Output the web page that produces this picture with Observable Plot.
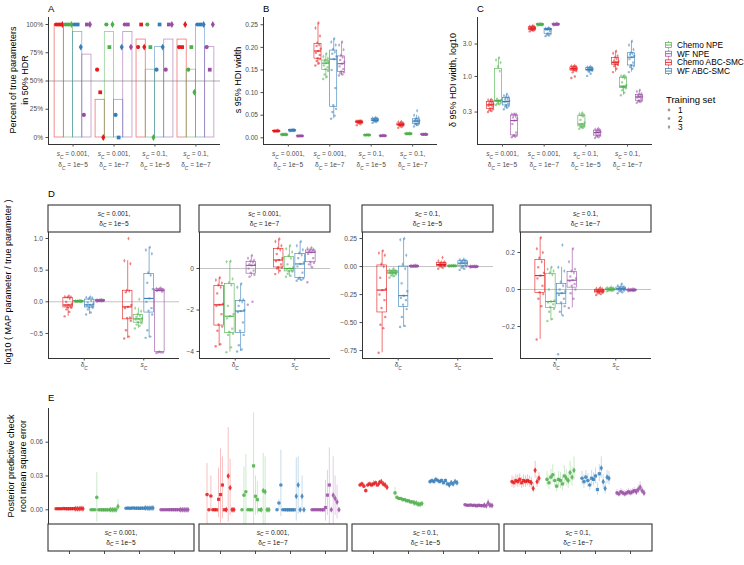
<!DOCTYPE html>
<html><head><meta charset="utf-8">
<script src="https://cdn.jsdelivr.net/npm/d3@7"></script>
<script src="https://cdn.jsdelivr.net/npm/@observablehq/plot@0.6"></script>
<style>
body{margin:0;background:#fff;font-family:"Liberation Sans",Arial,sans-serif}
#root{position:relative;width:744px;height:565px;overflow:hidden;background:#fff}
</style></head><body><div id="root"></div>
<script>
// ---------- categories ----------
const methods = ["Chemo ABC-SMC","Chemo NPE","WF ABC-SMC","WF NPE"];
const methodColors = ["#E41A1C","#4DAF4A","#377EB8","#984EA3"];
const legendOrder = ["Chemo NPE","WF NPE","Chemo ABC-SMC","WF ABC-SMC"];
const conditions = ["s_C = 0.001,\nδ_C = 1e−5","s_C = 0.001,\nδ_C = 1e−7","s_C = 0.1,\nδ_C = 1e−5","s_C = 0.1,\nδ_C = 1e−7"];
const paramLabels = ["δ_C","s_C"];
const trainingSets = [1,2,3];

// ---------- A: % of true parameters in 50% HDR (per method: sets 1,2,3) ----------
const hdr_c1 = [[100,100,100],[100,100,100],[100,100,80],[20,100,100]];
const hdr_c2 = [[60,40,0],[100,80,100],[20,0,80],[100,100,80]];
const hdr_c3 = [[80,100,80],[100,80,0],[60,100,80],[60,100,100]];
const hdr_c4 = [[80,80,100],[60,80,40],[100,100,100],[80,60,100]];

// ---------- B: s 95% HDI width ----------
const hdiS_c1 = [
 [0.0135,0.014,0.0142,0.0145,0.0147,0.0148,0.015,0.015,0.0152,0.0153,0.0155,0.0157,0.016,0.0163,0.0168],
 [0.0055,0.006,0.0062,0.0065,0.0067,0.0068,0.007,0.007,0.0071,0.0073,0.0075,0.0077,0.008,0.0082,0.0085],
 [0.0145,0.015,0.0155,0.0158,0.016,0.0162,0.0164,0.0166,0.0168,0.017,0.0172,0.0175,0.0178,0.018,0.0185],
 [0.003,0.0033,0.0035,0.0037,0.0038,0.004,0.004,0.0041,0.0042,0.0043,0.0045,0.0046,0.0048,0.005,0.0052]];
const hdiS_c2 = [
 [0.160,0.165,0.170,0.174,0.176,0.183,0.188,0.192,0.197,0.203,0.206,0.210,0.225,0.243,0.254],
 [0.130,0.135,0.140,0.148,0.152,0.156,0.160,0.165,0.167,0.169,0.170,0.172,0.176,0.180,0.186],
 [0.042,0.049,0.057,0.064,0.072,0.110,0.150,0.174,0.180,0.186,0.190,0.196,0.205,0.212,0.219],
 [0.138,0.140,0.143,0.145,0.147,0.152,0.158,0.164,0.168,0.172,0.178,0.182,0.195,0.205,0.212]];
const hdiS_c3 = [
 [0.028,0.030,0.032,0.033,0.034,0.034,0.035,0.035,0.0355,0.036,0.036,0.0365,0.037,0.037,0.038],
 [0.0052,0.0055,0.0057,0.0058,0.006,0.006,0.0061,0.0062,0.0063,0.0064,0.0065,0.0066,0.0068,0.007,0.0072],
 [0.033,0.035,0.036,0.037,0.038,0.038,0.039,0.039,0.040,0.040,0.041,0.042,0.043,0.044,0.045],
 [0.0035,0.0038,0.004,0.0041,0.0042,0.0043,0.0044,0.0045,0.0046,0.0047,0.0048,0.0049,0.005,0.0052,0.0055]];
const hdiS_c4 = [
 [0.022,0.024,0.026,0.027,0.028,0.028,0.029,0.029,0.030,0.030,0.031,0.032,0.033,0.035,0.036],
 [0.0078,0.008,0.0083,0.0085,0.0087,0.0088,0.009,0.009,0.0091,0.0092,0.0094,0.0095,0.0097,0.01,0.0102],
 [0.025,0.028,0.030,0.031,0.031,0.034,0.036,0.037,0.038,0.039,0.040,0.042,0.045,0.050,0.060],
 [0.0065,0.0067,0.0069,0.007,0.0071,0.0072,0.0073,0.0074,0.0075,0.0076,0.0077,0.0078,0.008,0.0082,0.0085]];

// ---------- C: delta 95% HDI width (log10 axis) ----------
const hdiD_c1 = [
 [0.30,0.31,0.32,0.33,0.34,0.36,0.37,0.383,0.39,0.40,0.41,0.43,0.44,0.45,0.46],
 [0.38,0.39,0.40,0.41,0.43,0.435,0.44,0.444,0.45,0.47,1.2,1.4,1.6,1.75,1.88],
 [0.33,0.35,0.36,0.37,0.38,0.40,0.42,0.429,0.44,0.46,0.47,0.49,0.50,0.52,0.55],
 [0.128,0.130,0.133,0.135,0.137,0.15,0.2,0.225,0.24,0.25,0.26,0.274,0.276,0.278,0.28]];
const hdiD_c2 = [
 [4.6,4.7,4.8,4.85,4.87,4.95,5.05,5.13,5.18,5.22,5.28,5.32,5.4,5.5,5.6],
 [5.6,5.65,5.7,5.72,5.75,5.78,5.8,5.82,5.84,5.86,5.88,5.9,5.93,5.96,6.0],
 [3.92,4.0,4.1,4.2,4.3,4.6,4.9,4.95,4.97,4.98,4.99,5.01,5.05,5.1,5.2],
 [5.65,5.7,5.73,5.76,5.78,5.8,5.83,5.85,5.87,5.89,5.91,5.93,5.96,6.0,6.05]];
const hdiD_c3 = [
 [0.95,1.0,1.15,1.2,1.24,1.27,1.29,1.3,1.31,1.33,1.35,1.38,1.4,1.43,1.45],
 [0.17,0.175,0.18,0.183,0.185,0.19,0.195,0.2,0.21,0.23,0.26,0.27,0.275,0.28,0.29],
 [1.02,1.1,1.18,1.21,1.23,1.25,1.26,1.27,1.28,1.3,1.32,1.34,1.36,1.38,1.4],
 [0.125,0.128,0.132,0.134,0.136,0.14,0.145,0.15,0.153,0.156,0.159,0.161,0.165,0.168,0.172]];
const hdiD_c4 = [
 [1.16,1.3,1.42,1.47,1.51,1.55,1.6,1.62,1.66,1.72,1.82,1.9,2.0,2.2,2.36],
 [0.53,0.58,0.63,0.67,0.69,0.7,0.71,0.72,0.75,0.82,0.94,0.98,1.0,1.02,1.03],
 [1.16,1.3,1.38,1.43,1.47,1.6,1.8,1.92,2.0,2.1,2.18,2.22,2.5,2.9,3.3],
 [0.41,0.42,0.43,0.435,0.445,0.47,0.49,0.5,0.51,0.52,0.53,0.545,0.56,0.6,0.63]];

// ---------- D: log10(MAP / true), delta_C and s_C per condition ----------
const mapDelta_c1 = [
 [-0.23,-0.16,-0.12,-0.095,-0.085,-0.07,-0.06,-0.05,-0.03,0.0,0.05,0.07,0.075,0.08,0.09],
 [-0.005,0,0.002,0.004,0.005,0.006,0.008,0.01,0.011,0.012,0.014,0.015,0.017,0.018,0.02],
 [-0.2,-0.17,-0.12,-0.095,-0.085,-0.07,-0.06,-0.048,-0.03,-0.01,0.02,0.05,0.06,0.07,0.075],
 [0.005,0.008,0.01,0.012,0.014,0.016,0.018,0.02,0.022,0.024,0.026,0.028,0.03,0.032,0.035]];
const mapS_c1 = [
 [-0.58,-0.55,-0.45,-0.3,-0.255,-0.25,-0.1,-0.08,-0.05,0.15,0.17,0.18,0.6,0.65,1.0],
 [-0.42,-0.38,-0.36,-0.34,-0.32,-0.3,-0.28,-0.27,-0.26,-0.24,-0.22,-0.2,-0.15,-0.1,0.04],
 [-0.57,-0.55,-0.45,-0.2,-0.14,-0.1,0.0,0.053,0.2,0.3,0.42,0.46,0.76,0.82,0.86],
 [-0.81,-0.8,-0.8,-0.8,-0.79,0.16,0.17,0.18,0.18,0.19,0.19,0.2,0.2,0.21,0.22]];
const mapDelta_c2 = [
 [-3.75,-3.65,-3.0,-2.8,-2.7,-2.2,-1.8,-1.75,-1.7,-1.2,-0.9,-0.8,-0.7,-0.55,-0.45],
 [-4.03,-3.8,-3.2,-3.15,-3.05,-2.9,-2.4,-2.3,-2.2,-1.8,-0.8,-0.68,-0.5,0.33,0.35],
 [-4.0,-3.9,-3.7,-3.2,-3.0,-2.6,-2.1,-2.05,-2.0,-1.8,-1.6,-1.54,-1.5,-0.9,-0.74],
 [-1.75,-1.6,-0.4,-0.3,-0.2,-0.1,0,0.15,0.18,0.2,0.3,0.35,0.4,0.5,0.63]];
const mapS_c2 = [
 [-0.27,-0.1,0.0,0.04,0.06,0.2,0.35,0.41,0.5,0.7,0.9,0.98,1.1,1.3,1.42],
 [-0.4,-0.35,-0.25,-0.15,-0.13,-0.08,-0.03,0.0,0.05,0.2,0.5,0.62,0.8,0.95,1.1],
 [-0.59,-0.55,-0.5,-0.48,-0.44,-0.2,0.1,0.22,0.3,0.5,0.65,0.75,0.9,1.1,1.3],
 [-0.66,0.06,0.2,0.28,0.32,0.5,0.7,0.78,0.8,0.82,0.85,0.89,0.92,0.96,1.0]];
const mapDelta_c3 = [
 [-0.77,-0.55,-0.52,-0.45,-0.37,-0.3,-0.25,-0.21,-0.2,-0.1,0.0,0.02,0.1,0.12,0.14],
 [-0.1,-0.085,-0.08,-0.07,-0.065,-0.06,-0.055,-0.05,-0.048,-0.045,-0.04,-0.038,-0.035,-0.03,-0.02],
 [-0.54,-0.53,-0.45,-0.38,-0.34,-0.3,-0.28,-0.26,-0.22,-0.15,-0.02,0.02,0.1,0.24,0.25],
 [-0.005,-0.003,-0.002,0,0.001,0.002,0.003,0.004,0.005,0.006,0.007,0.008,0.009,0.01,0.012]];
const mapS_c3 = [
 [-0.02,-0.01,0.0,0.005,0.008,0.01,0.015,0.018,0.02,0.025,0.03,0.032,0.04,0.05,0.08],
 [0,0.002,0.003,0.004,0.005,0.005,0.006,0.006,0.007,0.007,0.008,0.008,0.009,0.01,0.012],
 [-0.03,-0.02,-0.01,0.0,0.005,0.015,0.025,0.03,0.035,0.04,0.045,0.05,0.055,0.06,0.065],
 [-0.008,-0.006,-0.005,-0.004,-0.003,-0.002,-0.002,-0.001,0,0,0.001,0.002,0.003,0.004,0.005]];
const mapDelta_c4 = [
 [-0.27,-0.09,-0.05,-0.025,-0.015,0.02,0.06,0.075,0.09,0.12,0.15,0.17,0.2,0.22,0.28],
 [-0.17,-0.16,-0.12,-0.105,-0.095,-0.08,-0.07,-0.065,-0.06,0.0,0.08,0.09,0.1,0.11,0.12],
 [-0.35,-0.14,-0.12,-0.09,-0.07,-0.05,-0.03,-0.02,-0.01,0.0,0.02,0.04,0.1,0.12,0.24],
 [-0.1,-0.05,-0.02,0.0,0.02,0.03,0.045,0.05,0.06,0.07,0.09,0.1,0.11,0.15,0.22]];
const mapS_c4 = [
 [-0.03,-0.025,-0.02,-0.018,-0.015,-0.012,-0.01,-0.008,-0.006,-0.005,-0.003,0,0.003,0.006,0.01],
 [-0.01,-0.008,-0.006,-0.004,-0.003,-0.002,0,0,0.002,0.003,0.004,0.006,0.008,0.01,0.012],
 [-0.02,-0.015,-0.01,-0.006,-0.004,0,0.002,0.004,0.006,0.008,0.01,0.012,0.015,0.02,0.03],
 [-0.01,-0.008,-0.007,-0.006,-0.005,-0.004,-0.003,-0.003,-0.002,-0.002,-0.001,0,0.001,0.002,0.003]];

// ---------- E: posterior predictive RMSE [value, lower, upper] ----------
const ppc_c1 = [
 [[0.0009,0.0006,0.0012],[0.001,0.0007,0.0013],[0.0009,0.0006,0.0012],[0.001,0.0007,0.0013],[0.0011,0.0008,0.0014],[0.001,0.0007,0.0013],[0.0009,0.0006,0.0012],[0.001,0.0007,0.0013],[0.001,0.0007,0.0013],[0.0011,0.0008,0.0014],[0.001,0.0007,0.0013],[0.0009,0.0006,0.0012],[0.001,0.0007,0.0013],[0.0011,0.0008,0.0014],[0.001,0.0007,0.0013]],
 [[0,0,0.0002],[0,0,0.0002],[0,0,0.0002],[0.011,-0.011,0.033],[0,0,0.0002],[0,0,0.0002],[0,0,0.0002],[0,0,0.0002],[0,0,0.0002],[0,0,0.0002],[0,0,0.0002],[0,0,0.0002],[0,0,0.0002],[0,0,0.0002],[0.003,0.0005,0.009]],
 [[0.0014,0.0011,0.0017],[0.0015,0.0012,0.0018],[0.0013,0.001,0.0016],[0.0015,0.0012,0.0018],[0.0016,0.0013,0.0019],[0.0014,0.0011,0.0017],[0.0015,0.0012,0.0018],[0.0013,0.001,0.0016],[0.0015,0.0012,0.0018],[0.0014,0.0011,0.0017],[0.0016,0.0013,0.0019],[0.0015,0.0012,0.0018],[0.0014,0.0011,0.0017],[0.0015,0.0012,0.0018],[0.0016,0.0013,0.0019]],
 [[0.0001,0,0.0003],[0.0001,0,0.0003],[0.0001,0,0.0003],[0.0001,0,0.0003],[0.0001,0,0.0003],[0.0001,0,0.0003],[0.0001,0,0.0003],[0.0001,0,0.0003],[0.0001,0,0.0003],[0.0001,0,0.0003],[0.0001,0,0.0003],[0.0001,0,0.0003],[0.0001,0,0.0003],[0.0001,0,0.0003],[0.0001,0,0.0003]]];
const ppc_c2 = [
 [[0.0135,-0.013,0.041],[0,0,0.001],[0.0123,0.0,0.030],[0,0,0.001],[0,0,0.001],[0,0,0.001],[0.0093,-0.007,0.037],[0.0135,-0.012,0.054],[0.022,-0.008,0.047],[0,0,0.001],[0,0,0.001],[0.030,-0.011,0.073],[0.0195,-0.005,0.045],[0,0,0.001],[0,0,0.001]],
 [[0,0,0.001],[0.013,-0.013,0.038],[0.016,-0.015,0.049],[0,0,0.001],[0,0,0.001],[0,0,0.001],[0.039,-0.014,0.086],[0.012,-0.005,0.03],[0.009,-0.004,0.025],[0,0,0.001],[0,0,0.001],[0.017,-0.016,0.05],[0.016,-0.014,0.047],[0,0,0.001],[0,0,0.001]],
 [[0,0,0.001],[0.006,0,0.009],[0.022,-0.006,0.053],[0,0,0.001],[0,0,0.001],[0,0,0.001],[0,0,0.001],[0,0,0.001],[0,0,0.001],[0,0,0.001],[0.012,-0.01,0.046],[0.022,-0.004,0.047],[0,0,0.001],[0.012,-0.002,0.03],[0,0,0.001]],
 [[0,0,0.001],[0,0,0.001],[0,0,0.001],[0,0,0.001],[0,0,0.001],[0,0,0.001],[0,0,0.001],[0.002,-0.01,0.026],[0.013,-0.005,0.035],[0.022,-0.013,0.055],[0,0,0.001],[0.013,-0.013,0.047],[0.01,-0.005,0.03],[0.007,-0.008,0.022],[0,0,0.001]]];
const ppc_c3 = [
 [[0.022,0.020,0.024],[0.023,0.021,0.025],[0.021,0.019,0.023],[0.017,0.015,0.019],[0.022,0.020,0.024],[0.023,0.021,0.025],[0.022,0.020,0.024],[0.023,0.021,0.026],[0.024,0.022,0.026],[0.022,0.020,0.024],[0.024,0.022,0.026],[0.025,0.023,0.027],[0.023,0.021,0.025],[0.022,0.020,0.024],[0.020,0.018,0.022]],
 [[0.015,0.011,0.020],[0.011,0.010,0.012],[0.010,0.009,0.011],[0.010,0.009,0.011],[0.009,0.008,0.010],[0.009,0.008,0.010],[0.008,0.007,0.009],[0.008,0.007,0.009],[0.007,0.006,0.008],[0.007,0.006,0.008],[0.006,0.005,0.007],[0.006,0.005,0.007],[0.005,0.004,0.006],[0.005,0.004,0.006],[0.0055,0.0045,0.0065]],
 [[0.025,0.023,0.027],[0.026,0.024,0.028],[0.025,0.023,0.027],[0.027,0.025,0.029],[0.026,0.024,0.028],[0.025,0.023,0.027],[0.026,0.024,0.028],[0.024,0.022,0.026],[0.026,0.024,0.028],[0.023,0.021,0.025],[0.022,0.020,0.024],[0.024,0.022,0.026],[0.023,0.021,0.025],[0.025,0.023,0.027],[0.024,0.022,0.026]],
 [[0.0045,0.0035,0.0055],[0.004,0.003,0.005],[0.004,0.003,0.005],[0.0042,0.0032,0.0052],[0.0038,0.0028,0.0048],[0.004,0.003,0.005],[0.0035,0.0025,0.0045],[0.004,0.003,0.005],[0.0038,0.0028,0.0048],[0.0036,0.0026,0.0046],[0.004,0.003,0.005],[0.0035,0.0025,0.0045],[0.006,0.002,0.0095],[0.004,0.003,0.005],[0.0038,0.0028,0.0048]]];
const ppc_c4 = [
 [[0.025,0.020,0.030],[0.024,0.019,0.029],[0.026,0.021,0.031],[0.025,0.020,0.031],[0.027,0.021,0.032],[0.024,0.019,0.029],[0.026,0.020,0.031],[0.025,0.020,0.030],[0.026,0.021,0.031],[0.025,0.020,0.030],[0.024,0.019,0.029],[0.019,0.015,0.024],[0.035,0.028,0.043],[0.025,0.020,0.030],[0.028,0.023,0.033]],
 [[0.027,0.021,0.034],[0.024,0.018,0.031],[0.029,0.022,0.036],[0.031,0.024,0.040],[0.026,0.020,0.033],[0.021,0.016,0.028],[0.027,0.020,0.034],[0.026,0.019,0.033],[0.023,0.017,0.030],[0.030,0.022,0.039],[0.028,0.021,0.036],[0.026,0.019,0.034],[0.033,0.024,0.043],[0.029,0.021,0.038],[0.035,0.026,0.047]],
 [[0.028,0.022,0.034],[0.025,0.019,0.031],[0.029,0.023,0.035],[0.026,0.020,0.032],[0.022,0.017,0.028],[0.028,0.022,0.035],[0.027,0.021,0.033],[0.030,0.023,0.037],[0.018,0.013,0.024],[0.032,0.025,0.040],[0.037,0.028,0.047],[0.025,0.019,0.031],[0.019,0.014,0.025],[0.029,0.023,0.035],[0.028,0.022,0.034]],
 [[0.015,0.012,0.018],[0.014,0.011,0.017],[0.016,0.013,0.019],[0.015,0.012,0.018],[0.014,0.011,0.017],[0.015,0.012,0.018],[0.016,0.013,0.019],[0.015,0.012,0.018],[0.016,0.013,0.019],[0.017,0.014,0.020],[0.016,0.013,0.019],[0.018,0.014,0.022],[0.020,0.016,0.025],[0.017,0.014,0.021],[0.015,0.012,0.018]]];

// ---------- layout helpers ----------
const FONT = "Liberation Sans, Arial, Helvetica, sans-serif";
const JIT = [-0.9,0.3,-0.45,0.8,-0.15,0.6,-0.7,0.05,0.95,-0.5,0.4,-0.25,0.7,-0.85,0.2];
const root = document.getElementById("root");
const NS = "http://www.w3.org/2000/svg";

function subify(node){
  node.querySelectorAll("text, tspan").forEach(el => {
    if (el.children.length) return;
    const s = el.textContent;
    if (!s.includes("_C")) return;
    el.textContent = "";
    s.split(/([sδ])_C/).forEach((p, i) => {
      if (i % 2 === 0) { if (p) el.appendChild(document.createTextNode(p)); }
      else {
        const a = document.createElementNS(NS, "tspan"); a.textContent = p;
        if (p === "s") a.setAttribute("font-style", "italic");
        el.appendChild(a);
        const b = document.createElementNS(NS, "tspan"); b.textContent = "C";
        b.setAttribute("font-style", "italic"); b.setAttribute("font-size", "0.72em");
        b.setAttribute("baseline-shift", "sub");
        el.appendChild(b);
      }
    });
  });
}
function place(el, left, top){
  el.style.position = "absolute"; el.style.left = left + "px"; el.style.top = top + "px";
  subify(el); root.appendChild(el);
}
const common = {
  style: {fontFamily: FONT, fontSize: "6.6px", color: "#4d4d4d", background: "transparent", overflow: "visible"},
  color: {domain: methods, range: methodColors},
  symbol: {domain: trainingSets, range: ["circle","square","diamond"]}
};
function stats(vals, log){
  const s = (log ? vals.map(Math.log10) : vals.slice()).sort(d3.ascending);
  const q1 = d3.quantileSorted(s, .25), med = d3.quantileSorted(s, .5), q3 = d3.quantileSorted(s, .75);
  const iqr = q3 - q1;
  const lo = d3.min(s.filter(v => v >= q1 - 1.5*iqr)), hi = d3.max(s.filter(v => v <= q3 + 1.5*iqr));
  const f = log ? (v => Math.pow(10, v)) : (v => v);
  return {q1: f(q1), med: f(med), q3: f(q3), lo: f(lo), hi: f(hi)};
}
function buildBox(groupsByCat, dodge, hw, jit, log){
  const boxes = [], pts = [];
  groupsByCat.forEach((groups, ci) => groups.forEach((vals, mi) => {
    const x = ci + 1 + (mi - 1.5) * dodge;
    boxes.push({x, x1: x - hw, x2: x + hw, method: methods[mi], ...stats(vals, log)});
    vals.forEach((v, i) => pts.push({x: x + JIT[i % 15] * jit, v, method: methods[mi], set: Math.floor(i / 5) + 1}));
  }));
  return {boxes, pts};
}
function boxMarks(b){
  return [
    Plot.ruleX(b.boxes, {x: "x", y1: "lo", y2: "q1", stroke: "method", strokeWidth: 0.6}),
    Plot.ruleX(b.boxes, {x: "x", y1: "q3", y2: "hi", stroke: "method", strokeWidth: 0.6}),
    Plot.rect(b.boxes, {x1: "x1", x2: "x2", y1: "q1", y2: "q3", stroke: "method", fill: "none", strokeWidth: 0.6}),
    Plot.ruleY(b.boxes, {y: "med", x1: "x1", x2: "x2", stroke: "method", strokeWidth: 1.1}),
    Plot.dot(b.pts, {x: "x", y: "v", fill: "method", symbol: "set", r: 1.2, fillOpacity: 0.55})
  ];
}
const axisLine = {stroke: "#000", strokeWidth: 0.8};
function condAxisX(){
  return Plot.axisX({ticks: [1,2,3,4], tickFormat: i => conditions[i - 1], tickSize: 2.5, tickPadding: 1.5, lineHeight: 1.6, fontSize: 6.6, label: null});
}

// ---------- Panel A ----------
const hdrAll = [hdr_c1, hdr_c2, hdr_c3, hdr_c4];
const aBars = [], aPts = [];
hdrAll.forEach((cond, ci) => cond.forEach((sets, mi) => {
  const c = ci + 1 + (mi - 1.5) * 0.225;
  aBars.push({x1: c - 0.1125, x2: c + 0.1125, mean: d3.mean(sets), method: methods[mi]});
  sets.forEach((v, si) => aPts.push({x: c + (si - 1) * 0.075, v, method: methods[mi], set: trainingSets[si]}));
}));
const yA = [-6.2, 106.2];
place(Plot.plot({...common, width: 240, height: 175, marginLeft: 48, marginRight: 20, marginTop: 17, marginBottom: 31,
  x: {domain: [0.4, 4.6]}, y: {domain: yA},
  marks: [
    Plot.rect(aBars, {x1: "x1", x2: "x2", y1: d => 0, y2: "mean", stroke: "method", fill: "none", strokeWidth: 0.8, strokeOpacity: 0.6}),
    Plot.ruleY([50], {stroke: "#777", strokeWidth: 0.6}),
    Plot.dot(aPts, {x: "x", y: "v", fill: "method", symbol: "set", r: 2.1}),
    Plot.ruleX([0.4], axisLine), Plot.ruleY([yA[0]], axisLine),
    Plot.axisY({ticks: [0,25,50,75,100], tickFormat: d => d + "%", tickSize: 2.5, tickPadding: 3, label: null}),
    condAxisX()
  ]}), 0, 0);

// ---------- Panel B ----------
const bB = buildBox([hdiS_c1, hdiS_c2, hdiS_c3, hdiS_c4], 0.19, 0.085, 0.07, false);
const yB = [-0.0148, 0.2661];
place(Plot.plot({...common, width: 200, height: 175, marginLeft: 23, marginRight: 3, marginTop: 17, marginBottom: 31,
  x: {domain: [0.4, 4.6]}, y: {domain: yB},
  marks: [...boxMarks(bB),
    Plot.ruleX([0.4], axisLine), Plot.ruleY([yB[0]], axisLine),
    Plot.axisY({ticks: [0,0.05,0.1,0.15,0.2,0.25], tickFormat: d3.format(".2f"), tickSize: 2.5, tickPadding: 3, label: null}),
    condAxisX()]}), 240, 0);

// ---------- Panel C ----------
const bC = buildBox([hdiD_c1, hdiD_c2, hdiD_c3, hdiD_c4], 0.19, 0.085, 0.07, true);
const yC = [0.1, 7.37];
place(Plot.plot({...common, width: 210, height: 175, marginLeft: 27, marginRight: 8, marginTop: 17, marginBottom: 31,
  x: {domain: [0.4, 4.6]}, y: {type: "log", domain: yC},
  marks: [...boxMarks(bC),
    Plot.ruleX([0.4], axisLine), Plot.ruleY([yC[0]], axisLine),
    Plot.axisY({ticks: [0.3,1,3], tickFormat: d3.format(".1f"), tickSize: 2.5, tickPadding: 3, label: null}),
    condAxisX()]}), 450, 0);

// ---------- Panel D ----------
const dSpecs = [
  {data: [mapDelta_c1, mapS_c1], left: 20, width: 170, ml: 28, dom: [-0.896, 1.095], ticks: [-0.5,0,0.5,1], fmt: ".1f"},
  {data: [mapDelta_c2, mapS_c2], left: 185, width: 150, ml: 14, dom: [-4.337, 1.735], ticks: [-4,-2,0], fmt: "d"},
  {data: [mapDelta_c3, mapS_c3], left: 330, width: 170, ml: 32, dom: [-0.821, 0.304], ticks: [-0.75,-0.5,-0.25,0,0.25], fmt: ".2f"},
  {data: [mapDelta_c4, mapS_c4], left: 495, width: 160, ml: 25, dom: [-0.373, 0.308], ticks: [-0.2,0,0.2], fmt: ".1f"}
];
dSpecs.forEach(sp => {
  const b = buildBox(sp.data, 0.18, 0.08, 0.065, false);
  place(Plot.plot({...common, width: sp.width, height: 200, marginLeft: sp.ml, marginRight: sp.width - sp.ml - 131, marginTop: 52, marginBottom: 22,
    x: {domain: [0.4, 2.6]}, y: {domain: sp.dom},
    marks: [
      Plot.ruleY([0], {stroke: "#9a9a9a", strokeWidth: 0.6}),
      ...boxMarks(b),
      Plot.ruleX([0.4], axisLine), Plot.ruleY([sp.dom[0]], axisLine),
      Plot.axisY({ticks: sp.ticks, tickFormat: d3.format(sp.fmt), tickSize: 2.5, tickPadding: 3, label: null}),
      Plot.axisX({ticks: [1,2], tickFormat: i => paramLabels[i - 1], tickSize: 2.5, tickPadding: 1.5, fontSize: 6.6, label: null})
    ]}), sp.left, 180);
});

// ---------- Panel E ----------
const yE = [-0.01304, 0.0899];
const eSpecs = [
  {data: ppc_c1, left: 20, width: 180, ml: 28, axis: true},
  {data: ppc_c2, left: 195, width: 157, ml: 4, axis: false},
  {data: ppc_c3, left: 348, width: 155, ml: 4, axis: false},
  {data: ppc_c4, left: 500, width: 156, ml: 4, axis: false}
];
eSpecs.forEach(sp => {
  const pts = [];
  sp.data.forEach((grp, mi) => grp.forEach(([v, lo, hi], i) =>
    pts.push({x: mi + 1 + (i - 7) * 0.055, v, lo, hi, method: methods[mi], set: Math.floor(i / 5) + 1})));
  const marks = [
    Plot.ruleX(pts, {x: "x", y1: "lo", y2: "hi", stroke: "method", strokeOpacity: 0.35, strokeWidth: 0.8}),
    Plot.dot(pts, {x: "x", y: "v", fill: "method", symbol: "set", r: 1.8, fillOpacity: 0.85}),
    Plot.axisX({ticks: [1,2,3,4], tickFormat: () => "", tickSize: 3, dy: 27, label: null})
  ];
  if (sp.axis) marks.push(Plot.ruleX([0.4], axisLine),
    Plot.axisY({ticks: [0,0.03,0.06], tickFormat: d3.format(".2f"), tickSize: 2.5, tickPadding: 3, label: null}));
  place(Plot.plot({...common, width: sp.width, height: 165, marginLeft: sp.ml, marginRight: sp.width - sp.ml - 147, marginTop: 8, marginBottom: 41,
    x: {domain: [0.4, 4.6]}, y: {domain: yE, axis: sp.axis ? undefined : null}, marks}), sp.left, 400);
});

// ---------- overlay: titles, strips, legend ----------
const ov = d3.create("svg").attr("width", 744).attr("height", 565)
  .style("position", "absolute").style("left", "0px").style("top", "0px")
  .attr("font-family", FONT);
function txt(x, y, s, size, opts = {}){
  const t = ov.append("text").attr("x", x).attr("y", y).attr("font-size", size)
    .attr("fill", opts.fill || "#000").attr("text-anchor", opts.anchor || "start")
    .attr("dominant-baseline", opts.baseline || "auto");
  if (opts.rotate) t.attr("transform", `rotate(-90,${x},${y})`);
  t.text(s); return t;
}
[["A",48,11.5],["B",263,11.5],["C",477,11.5],["D",48,196.5],["E",48,400.5]].forEach(([l,x,y]) => txt(x, y, l, 9.5));
// axis titles
txt(13, 80, "Percent of true parameters", 9, {rotate: true, anchor: "middle", baseline: "central"});
txt(25, 80, "in 50% HDR", 9, {rotate: true, anchor: "middle", baseline: "central"});
txt(238, 80, "s 95% HDI width", 9, {rotate: true, anchor: "middle", baseline: "central"});
txt(453, 80, "δ 95% HDI width, log10", 9, {rotate: true, anchor: "middle", baseline: "central"});
txt(8, 282, "log10 ( MAP parameter / true parameter )", 9, {rotate: true, anchor: "middle", baseline: "central"});
txt(11, 466, "Posterior predictive check", 9, {rotate: true, anchor: "middle", baseline: "central"});
txt(23, 466, "root mean square error", 9, {rotate: true, anchor: "middle", baseline: "central"});
// strips
function strip(x0, x1, y0, y1, label){
  ov.append("rect").attr("x", x0).attr("y", y0).attr("width", x1 - x0).attr("height", y1 - y0)
    .attr("fill", "#fff").attr("stroke", "#333").attr("stroke-width", 1.1);
  const [l1, l2] = label.split("\n"), cx = (x0 + x1) / 2, h = y1 - y0;
  txt(cx, y0 + h * 0.31, l1, 6.6, {anchor: "middle", baseline: "central", fill: "#1a1a1a"});
  txt(cx, y0 + h * 0.68, l2, 6.6, {anchor: "middle", baseline: "central", fill: "#1a1a1a"});
}
[[48,180],[199,330],[362,493],[520,651]].forEach(([a,b], i) => strip(a, b, 205, 232, conditions[i]));
[[48,194],[199,347],[352,499],[504,652]].forEach(([a,b], i) => strip(a, b, 524, 551, conditions[i]));
// legend
const legY = [45, 53.7, 62.4, 71.1];
legendOrder.forEach((name, k) => {
  const col = methodColors[methods.indexOf(name)], y = legY[k];
  ov.append("line").attr("x1", 668.5).attr("x2", 668.5).attr("y1", y - 4).attr("y2", y + 4).attr("stroke", col).attr("stroke-width", 0.7);
  ov.append("rect").attr("x", 665.5).attr("y", y - 2.5).attr("width", 6).attr("height", 5).attr("fill", "#fff").attr("stroke", col).attr("stroke-width", 0.7);
  ov.append("line").attr("x1", 665.5).attr("x2", 671.5).attr("y1", y).attr("y2", y).attr("stroke", col).attr("stroke-width", 0.9);
  txt(677, y, name, 8.3, {baseline: "central"});
});
txt(666, 99, "Training set", 9.5, {baseline: "central"});
const symY = [110, 118.5, 127];
trainingSets.forEach((s, k) => {
  const sym = [d3.symbolCircle, d3.symbolSquare, d3.symbolDiamond][k];
  ov.append("path").attr("d", d3.symbol(sym, 6)()).attr("transform", `translate(669,${symY[k]})`).attr("fill", "#9a9a9a");
  txt(678, symY[k], String(s), 8.3, {baseline: "central"});
});
const ovNode = ov.node();
subify(ovNode);
root.appendChild(ovNode);
</script></body></html>
